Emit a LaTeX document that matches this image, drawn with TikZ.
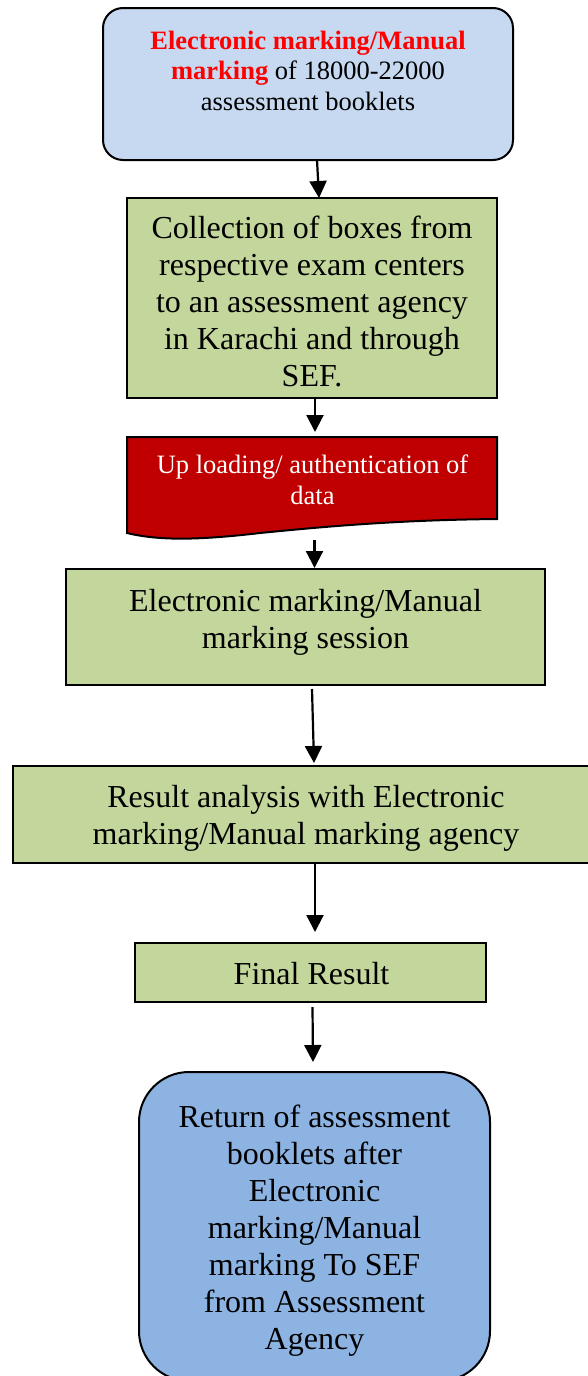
\documentclass[tikz,border=0pt]{standalone}
\usepackage{fontspec}
\setmainfont{Liberation Serif}
\usetikzlibrary{arrows.meta}

\definecolor{paleblue}{HTML}{C6D9F1}
\definecolor{olivegreen}{HTML}{C3D69B}
\definecolor{docred}{HTML}{C00000}
\definecolor{midblue}{HTML}{8DB3E2}
\definecolor{brightred}{HTML}{FF0000}

\tikzset{
  boxline/.style={draw=black, line width=2pt},
  stepbox/.style={boxline, rectangle, inner sep=0pt, outer sep=0pt},
  bigtext/.style={align=center, inner sep=0pt, font=\fontsize{32}{37}\selectfont},
  smalltext/.style={align=center, inner sep=0pt, font=\fontsize{26.5}{30.5}\selectfont},
  arr/.style={line width=2.2pt, -{Triangle[width=17pt,length=17pt]}}
}

\begin{document}
\begin{tikzpicture}[x=1pt, y=-1pt]
  \clip (0,0) rectangle (588,1376);
  \fill[white] (0,0) rectangle (588,1376);

  % start: marking of booklets
  \node[stepbox, fill=paleblue, rounded corners=20pt,
        minimum width=410pt, minimum height=152pt] (start) at (308,84) {};
  \node[smalltext] (start-t) at (308,70.5)
    {\textcolor{brightred}{\textbf{Electronic marking/Manual}}\\
     \textcolor{brightred}{\textbf{marking}} of 18000-22000\\
     assessment booklets};

  % collection of boxes
  \node[stepbox, fill=olivegreen, minimum width=370pt, minimum height=200pt]
    (collect) at (312,298) {};
  \node[bigtext] (collect-t) at (312,301.5)
    {Collection of boxes from\\ respective exam centers\\ to an assessment agency\\
     in Karachi and through\\ SEF.};

  % uploading (document shape with wavy bottom)
  \node[rectangle, inner sep=0pt, outer sep=0pt, minimum width=370pt,
        minimum height=103pt] (upload) at (312,488.5) {};
  \draw[boxline, fill=docred] (127,437) -- (497,437) -- (497,519)
    .. controls (400,520) and (330,526) .. (260,533)
    .. controls (200,540) and (160,541) .. (127,533) -- cycle;
  \node[smalltext, text=white] (upload-t) at (312.5,480)
    {Up loading/ authentication of\\ data};

  % marking session
  \node[stepbox, fill=olivegreen, minimum width=479pt, minimum height=116pt]
    (session) at (305.5,627) {};
  \node[bigtext] (session-t) at (305.5,622)
    {Electronic marking/Manual\\ marking session};

  % result analysis
  \node[stepbox, fill=olivegreen, minimum width=586pt, minimum height=97pt]
    (result) at (306,814.5) {};
  \node[bigtext] (result-t) at (306,818)
    {Result analysis with Electronic\\ marking/Manual marking agency};

  % final result
  \node[stepbox, fill=olivegreen, minimum width=351pt, minimum height=59pt]
    (final) at (310.5,972.5) {};
  \node[bigtext] (final-t) at (311.5,974) {Final Result};

  % return of booklets
  \node[stepbox, fill=midblue, rounded corners=50pt,
        minimum width=351pt, minimum height=309pt] (return) at (314.5,1226.5) {};
  \node[bigtext] (return-t) at (314.5,1230.5)
    {Return of assessment\\ booklets after\\ Electronic\\ marking/Manual\\
     marking To SEF\\ from Assessment\\ Agency};

  % connectors
  \draw[arr] ([xshift=9pt]start.south) -- ([xshift=7pt]collect.north);
  \draw[arr] ([xshift=3pt]collect.south) -- ([xshift=3pt,yshift=5pt]upload.north);
  \draw[arr] ([xshift=2.5pt]upload.south) -- ([xshift=9pt,yshift=1pt]session.north);
  \draw[arr] ([xshift=6.5pt,yshift=-4pt]session.south) -- ([xshift=8pt,yshift=3pt]result.north);
  \draw[arr] ([xshift=9pt]result.south) -- ([xshift=4.5pt,yshift=11pt]final.north);
  \draw[arr] ([xshift=2pt,yshift=-5pt]final.south) -- ([xshift=-1.5pt,yshift=10pt]return.north);
\end{tikzpicture}
\end{document}
